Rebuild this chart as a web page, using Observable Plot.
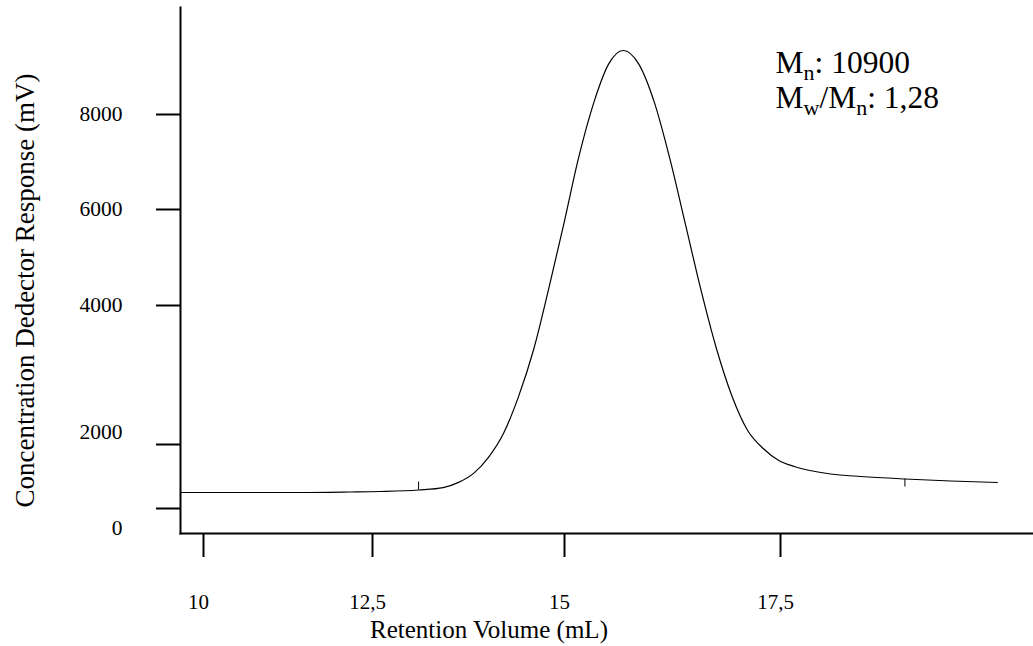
<!DOCTYPE html>
<html>
<head>
<meta charset="utf-8">
<script src="https://cdn.jsdelivr.net/npm/d3@7"></script>
<script src="https://cdn.jsdelivr.net/npm/@observablehq/plot@0.6"></script>
<style>
  html, body { margin: 0; padding: 0; background: #fff; }
  svg { font-family: "Liberation Serif", "Times New Roman", serif; }
</style>
</head>
<body>
<div id="chart"></div>
<script>
// Retention volume (mL) and detector response (mV)
const retentionVolume = [9.66, 10.70, 11.43, 12.17, 12.60, 13.10, 13.42, 13.62, 13.82, 14.01,
  14.21, 14.40, 14.60, 14.79, 14.99, 15.16, 15.34, 15.51, 15.68, 15.86,
  16.04, 16.22, 16.40, 16.58, 16.76, 16.94, 17.12, 17.30, 17.48, 17.66,
  17.84, 18.08, 18.43, 18.94, 19.47, 20.01];
const response = [500, 500, 500, 516, 531, 578, 653, 816, 1106, 1600,
  2170, 2685, 3374, 4319, 5689, 7065, 8255, 9061, 9347, 9061,
  8255, 7065, 5689, 4319, 3374, 2691, 2201, 1875, 1500, 1313,
  1188, 1078, 1000, 922, 859, 812];

// Integration limit markers (small ticks on the trace)
const markerVolume = [13.10, 18.94];
const markerFrom = [578, 922];
const markerTo = [828, 672];

const xTicks = [10, 12.5, 15, 17.5];
const yTicks = [0, 2000, 4000, 6000, 8000];
const yLabelsCentered = [4000, 6000, 8000];
const yLabelsRaised = [2000];
const yLabelsLowered = [0];

const xTitle = "Retention Volume (mL)";
const yTitle = "Concentration Dedector Response (mV)";
const annotationLines = ["M_n: 10900", "M_w/M_n: 1,28"];

const curve = retentionVolume.map((v, i) => ({volume: v, response: response[i]}));
const markers = markerVolume.map((v, i) => ({volume: v, from: markerFrom[i], to: markerTo[i]}));
const fmtX = d => String(d).replace(".", ",");
const fmtY = d => String(d);

const plot = Plot.plot({
  width: 1033,
  height: 646,
  marginLeft: 180,
  marginRight: 0,
  marginTop: 7,
  marginBottom: 113,
  style: {fontFamily: '"Liberation Serif", "Times New Roman", serif', fontSize: "21px", color: "#000", background: "#fff"},
  x: {type: "linear", domain: [10, 12.5, 15, 17.5], range: [203, 372, 564, 780]},
  y: {type: "linear", domain: [0, 2000, 4000, 6000, 8000], range: [508, 444, 305, 209, 114]},
  marks: [
    Plot.frame({anchor: "left", stroke: "#000", strokeWidth: 2}),
    Plot.frame({anchor: "bottom", stroke: "#000", strokeWidth: 2}),
    Plot.axisX(xTicks, {tickSize: 24, strokeWidth: 2, tickFormat: () => "", label: null}),
    Plot.axisX(xTicks, {tickSize: 0, tickPadding: 61, fontSize: 21, dx: -5, tickFormat: fmtX, label: null}),
    Plot.axisY(yTicks, {tickSize: 24, strokeWidth: 2, tickFormat: () => "", label: null}),
    Plot.axisY(yLabelsCentered, {tickSize: 0, tickPadding: 58, fontSize: 21.5, tickFormat: fmtY, label: null}),
    Plot.axisY(yLabelsRaised, {tickSize: 0, tickPadding: 58, fontSize: 21.5, dy: -12, tickFormat: fmtY, label: null}),
    Plot.axisY(yLabelsLowered, {tickSize: 0, tickPadding: 58, fontSize: 21.5, dy: 20, tickFormat: fmtY, label: null}),
    Plot.text([xTitle], {frameAnchor: "bottom", text: d => d, fontSize: 25, dx: -118, dy: 96, lineAnchor: "middle"}),
    Plot.text([yTitle], {frameAnchor: "left", text: d => d, fontSize: 27, rotate: -90, dx: -155, dy: 20, lineAnchor: "middle", textAnchor: "middle"}),
    Plot.line(curve, {x: "volume", y: "response", stroke: "#000", strokeWidth: 1.2, curve: "monotone-x"}),
    Plot.ruleX(markers, {x: "volume", y1: "from", y2: "to", stroke: "#000", strokeWidth: 1}),
    Plot.text([annotationLines[0]], {frameAnchor: "top-left", text: d => d, fontSize: 31.5, textAnchor: "start", lineAnchor: "middle", dx: 595, dy: 55}),
    Plot.text([annotationLines[1]], {frameAnchor: "top-left", text: d => d, fontSize: 31.5, textAnchor: "start", lineAnchor: "middle", dx: 595, dy: 90})
  ]
});

// Render subscripts (M_n, M_w) as real tspans
d3.select(plot).selectAll("text").each(function() {
  const t = this.textContent;
  if (!t.includes("_")) return;
  const sel = d3.select(this);
  sel.text(null);
  const parts = t.split(/_(.)/);
  parts.forEach((p, i) => {
    if (p === "") return;
    if (i % 2 === 1) {
      sel.append("tspan").attr("font-size", 22).attr("dy", 7).text(p);
    } else {
      const span = sel.append("tspan").text(p);
      if (i > 0) span.attr("dy", -7);
    }
  });
});

document.getElementById("chart").appendChild(plot);
</script>
</body>
</html>
